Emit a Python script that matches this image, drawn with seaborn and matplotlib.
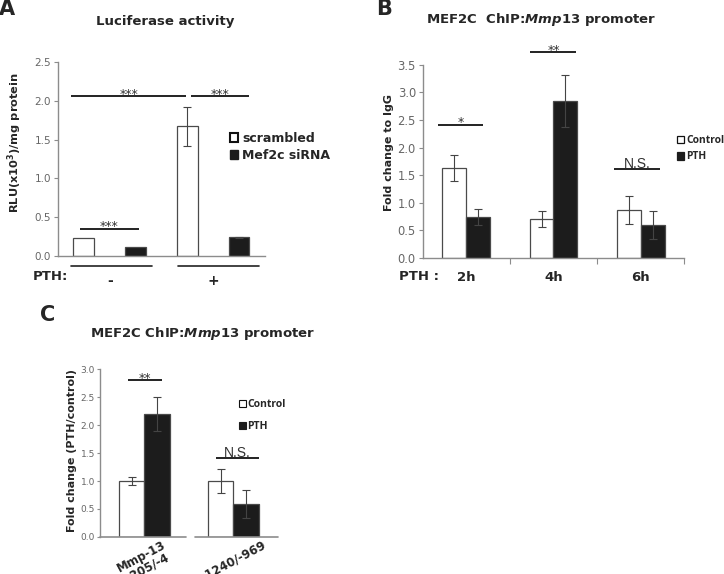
import numpy as np
import pandas as pd
import matplotlib
matplotlib.use("Agg")
import matplotlib.pyplot as plt
import matplotlib.patches as mpatches
import seaborn as sns

# ---- data -------------------------------------------------------------
a_groups = ["-", "+"]
a_hue = ["scrambled", "Mef2c siRNA"]
a_scrambled = [0.23, 1.67]
a_scrambled_err = [0.0, 0.25]
a_sirna = [0.11, 0.24]
a_sirna_err = [0.0, 0.01]

b_groups = ["2h", "4h", "6h"]
b_hue = ["Control", "PTH"]
b_control = [1.63, 0.71, 0.87]
b_control_err = [0.24, 0.14, 0.26]
b_pth = [0.74, 2.85, 0.60]
b_pth_err = [0.14, 0.47, 0.25]

c_groups = ["Mmp-13\n-205/-4", "-1240/-969"]
c_hue = ["Control", "PTH"]
c_control = [1.00, 1.00]
c_control_err = [0.08, 0.21]
c_pth = [2.20, 0.59]
c_pth_err = [0.30, 0.25]

WHITE = "white"
BLACK = "#1c1c1c"
EDGE = "#4a4a4a"
AXC = "#8c8c8c"
TICKC = "#666666"

sns.set_style("ticks")
plt.rcParams["font.family"] = ["DejaVu Sans"]
plt.rcParams["mathtext.fontset"] = "custom"
plt.rcParams["mathtext.it"] = "DejaVu Sans:italic:bold"
plt.rcParams["mathtext.rm"] = "DejaVu Sans:bold"


def long_df(groups, hue, v1, e1, v2, e2):
    return pd.DataFrame({
        "group": list(groups) * 2,
        "cond": [hue[0]] * len(groups) + [hue[1]] * len(groups),
        "value": list(v1) + list(v2),
        "err": list(e1) + list(e2),
    })


def draw_bars(ax, df, groups, hue, width, gap):
    sns.barplot(data=df, x="group", y="value", hue="cond", order=groups,
                hue_order=hue, palette={hue[0]: WHITE, hue[1]: BLACK},
                width=width, gap=gap, edgecolor=EDGE, linewidth=0.9,
                errorbar=None, legend=False, ax=ax)
    for cont, h in zip(ax.containers, hue):
        sub = df[df["cond"] == h].set_index("group").loc[groups]
        for p, e in zip(cont.patches, sub["err"]):
            if e <= 0:
                continue
            ax.errorbar(p.get_x() + p.get_width() / 2, p.get_height(), yerr=e,
                        fmt="none", ecolor="#444444", elinewidth=0.8,
                        capsize=3, capthick=0.8)


def style_axes(ax, ylim, yticks, labelsize=7.5):
    ax.set_ylim(*ylim)
    ax.set_yticks(yticks)
    ax.set_yticklabels([f"{t:.1f}" for t in yticks])
    for s in ["top", "right"]:
        ax.spines[s].set_visible(False)
    for s in ["left", "bottom"]:
        ax.spines[s].set_color(AXC)
        ax.spines[s].set_linewidth(1.0)
    ax.tick_params(axis="y", colors=AXC, labelcolor=TICKC, labelsize=labelsize,
                   length=3, width=0.8, pad=2)
    ax.set_xlabel("")
    ax.set_ylabel("")


def sig(ax, x0, x1, y, label, fs=9, family="DejaVu Sans", dy=0.0):
    ax.plot([x0, x1], [y, y], color="#222222", lw=1.4, clip_on=False,
            solid_capstyle="butt")
    ax.text((x0 + x1) / 2, y + dy, label, ha="center", va="bottom",
            fontsize=fs, color="#333333", family=family)


fig = plt.figure(figsize=(7.24, 5.74), dpi=100)

# ---- panel A ----------------------------------------------------------
axA = fig.add_axes([0.080, 0.554, 0.286, 0.338])
dfA = long_df(a_groups, a_hue, a_scrambled, a_scrambled_err, a_sirna, a_sirna_err)
draw_bars(axA, dfA, a_groups, a_hue, width=1.0, gap=0.6)
style_axes(axA, (0, 2.5), np.arange(0, 2.51, 0.5))
axA.set_xlim(-0.5, 1.5)
axA.set_xticks([0, 1])
axA.set_xticklabels(a_groups, fontsize=10, fontweight="bold")
axA.tick_params(axis="x", length=0, pad=13)
for x0, x1 in [(-0.37, 0.41), (0.66, 1.44)]:
    axA.plot([x0, x1], [-0.13, -0.13], color="#222222", lw=1.2, clip_on=False)
axA.text(-0.57, -0.26, "PTH:", ha="center", va="center", fontsize=9.5,
         fontweight="bold")
sig(axA, -0.37, 0.74, 2.06, "***", dy=-0.06)
sig(axA, 0.79, 1.35, 2.06, "***", dy=-0.06)
sig(axA, -0.29, 0.28, 0.35, "***", dy=-0.06)
hA = [mpatches.Patch(facecolor=WHITE, edgecolor="#111111", linewidth=1.5),
      mpatches.Patch(facecolor=BLACK, edgecolor=BLACK, linewidth=1.0)]
axA.legend(hA, a_hue, loc="center left", bbox_to_anchor=(0.83, 0.562),
           frameon=False, handlelength=0.68, handleheight=0.78,
           handletextpad=0.3, labelspacing=0.3, borderpad=0, borderaxespad=0,
           prop={"size": 9, "weight": "bold"})

# ---- panel B ----------------------------------------------------------
axB = fig.add_axes([0.584, 0.5505, 0.361, 0.3365])
dfB = long_df(b_groups, b_hue, b_control, b_control_err, b_pth, b_pth_err)
draw_bars(axB, dfB, b_groups, b_hue, width=0.55, gap=0)
style_axes(axB, (0, 3.5), np.arange(0, 3.51, 0.5), labelsize=8.3)
axB.set_xlim(-0.5, 2.5)
axB.set_xticks([0, 1, 2])
axB.set_xticklabels(b_groups, fontsize=9.5, fontweight="bold")
axB.set_xticks([0.5, 1.5, 2.5], minor=True)
axB.tick_params(axis="x", which="major", length=0, pad=9)
axB.tick_params(axis="x", which="minor", length=4, width=0.8, color=AXC)
axB.annotate("PTH :", xy=(-0.54, -0.098), xycoords=("data", "axes fraction"),
             ha="center", va="center", fontsize=9.5, fontweight="bold",
             annotation_clip=False)
sig(axB, -0.32, 0.195, 2.41, "*", dy=-0.07)
sig(axB, 0.736, 1.264, 3.74, "**", dy=-0.09)
sig(axB, 1.70, 2.22, 1.61, "N.S.", fs=10, family="Liberation Sans", dy=-0.03)
hB = [mpatches.Patch(facecolor=WHITE, edgecolor="#111111", linewidth=0.9),
      mpatches.Patch(facecolor=BLACK, edgecolor=BLACK, linewidth=0.9)]
axB.legend(hB, b_hue, loc="center left", bbox_to_anchor=(0.971, 0.565),
           frameon=False, handlelength=0.75, handleheight=0.75,
           handletextpad=0.2, labelspacing=0.5, borderpad=0, borderaxespad=0,
           prop={"size": 7.4, "weight": "bold", "family": "Open Sans"})

# ---- panel C ----------------------------------------------------------
axC = fig.add_axes([0.138, 0.0645, 0.246, 0.2925])
dfC = long_df(c_groups, c_hue, c_control, c_control_err, c_pth, c_pth_err)
draw_bars(axC, dfC, c_groups, c_hue, width=0.58, gap=0)
style_axes(axC, (0, 3.0), np.arange(0, 3.01, 0.5), labelsize=6.5)
axC.tick_params(axis="y", pad=1, length=2.5)
axC.set_xlim(-0.5, 1.5)
axC.spines["bottom"].set_visible(False)
for x0, x1 in [(-0.5, 0.47), (0.57, 1.5)]:
    axC.plot([x0, x1], [0, 0], color=AXC, lw=1.2, clip_on=False)
axC.set_xticks([0, 1])
axC.set_xticklabels(c_groups, fontsize=8.5, fontweight="bold", rotation=28,
                    ha="center", linespacing=0.9)
axC.tick_params(axis="x", length=0, pad=1)
sig(axC, -0.18, 0.20, 2.80, "**", dy=-0.08)
sig(axC, 0.80, 1.29, 1.41, "N.S.", fs=10, family="Liberation Sans", dy=-0.03)
hC = [mpatches.Patch(facecolor=WHITE, edgecolor="#111111", linewidth=0.8),
      mpatches.Patch(facecolor=BLACK, edgecolor=BLACK, linewidth=0.8)]
axC.legend(hC, c_hue, loc="center left", bbox_to_anchor=(0.78, 0.723),
           frameon=False, handlelength=0.7, handleheight=0.7,
           handletextpad=0.1, labelspacing=1.0, borderpad=0, borderaxespad=0,
           prop={"size": 7.5, "weight": "bold", "family": "Open Sans"})

# ---- titles, labels, panel letters ------------------------------------
def ftext(x, y, s, **kw):
    fig.text(x / 724, 1 - y / 574, s, **kw)

ftext(7, 9, "A", fontsize=15, fontweight="bold", ha="center", va="center")
ftext(384, 9, "B", fontsize=15, fontweight="bold", ha="center", va="center")
ftext(48, 315, "C", fontsize=15, fontweight="bold", ha="center", va="center")

ftext(165, 21, "Luciferase activity", fontsize=9.5, fontweight="bold",
      ha="center", va="center")
ftext(541, 20, r"MEF2C  ChIP:$\mathit{Mmp13}$ promoter", fontsize=9.5,
      fontweight="bold", ha="center", va="center")
ftext(203, 333, r"MEF2C ChIP:$\mathit{Mmp13}$ promoter", fontsize=9.5,
      fontweight="bold", ha="center", va="center")

ftext(15, 143, "RLU(x10$^{3}$)/mg protein", fontsize=8.2, fontweight="bold",
      rotation=90, ha="center", va="center")
ftext(389, 153, "Fold change to IgG", fontsize=8, fontweight="bold",
      rotation=90, ha="center", va="center")
ftext(72, 450, "Fold change (PTH/control)", fontsize=8, fontweight="bold",
      rotation=90, ha="center", va="center")

fig.savefig("out.png", dpi=100)
